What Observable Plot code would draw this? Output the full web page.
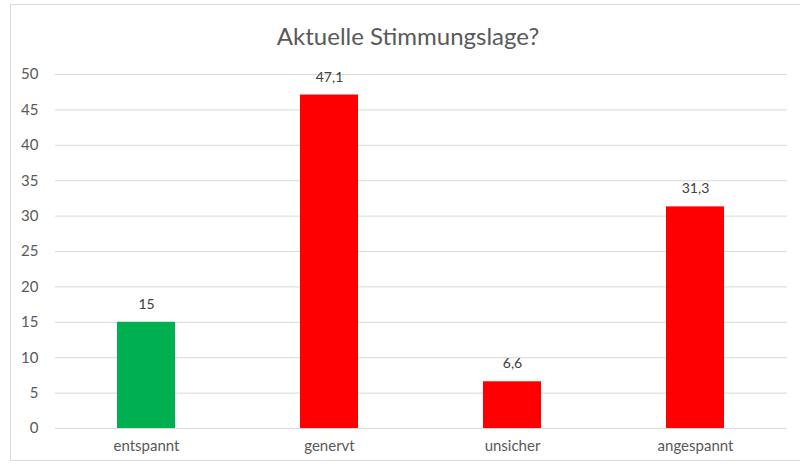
<!DOCTYPE html>
<html>
<head>
<meta charset="utf-8">
<script src="https://cdn.jsdelivr.net/npm/d3@7"></script>
<script src="https://cdn.jsdelivr.net/npm/@observablehq/plot@0.6"></script>
<style>
  html, body { margin: 0; padding: 0; background: #fff; }
  #wrap { position: relative; width: 800px; height: 468px; overflow: hidden; font-family: Lato, "Open Sans", sans-serif; }
  #frame { position: absolute; left: 10px; top: 4px; width: 800px; height: 457px; border: 1px solid #d9d9d9; box-sizing: border-box; }
  #title { position: absolute; left: 0; width: 816px; top: 21px; text-align: center; font-size: 24px; color: #595959; line-height: 30px; }
  #chart { position: absolute; left: 0; top: 0; }
</style>
</head>
<body>
<div id="wrap">
  <div id="frame"></div>
  <div id="title">Aktuelle Stimmungslage?</div>
  <div id="chart"></div>
</div>
<script>
const categories = ["entspannt", "genervt", "unsicher", "angespannt"];
const values = [15, 47.1, 6.6, 31.3];
const labels = ["15", "47,1", "6,6", "31,3"];
const barColors = ["#00b050", "#ff0000", "#ff0000", "#ff0000"];
const yTicks = [0, 5, 10, 15, 20, 25, 30, 35, 40, 45, 50];

const data = categories.map((c, i) => ({cat: c, value: values[i], label: labels[i], color: barColors[i]}));

const chart = Plot.plot({
  width: 800,
  height: 468,
  marginTop: 74,
  marginBottom: 40,
  marginLeft: 55,
  marginRight: 13,
  style: {fontFamily: "Lato, 'Open Sans', sans-serif", fontSize: "15px", background: "transparent", color: "#595959"},
  x: {domain: categories, paddingInner: 0.683, paddingOuter: 0.3415, label: null},
  y: {domain: [0, 50], ticks: yTicks, label: null},
  marks: [
    Plot.gridY(yTicks, {stroke: "#d9d9d9", strokeOpacity: 1, strokeWidth: 1}),
    Plot.axisY(yTicks, {tickSize: 0, tickPadding: 17, fontSize: 15, fill: "#595959", label: null}),
    Plot.axisX({tickSize: 0, tickPadding: 12, fontSize: 15, fill: "#595959", label: null}),
    Plot.barY(data, {x: "cat", y: "value", fill: "color"}),
    Plot.text(data, {x: "cat", y: "value", text: "label", dy: -18, fill: "#404040", fontSize: 14})
  ]
});
document.getElementById("chart").appendChild(chart);
</script>
</body>
</html>
